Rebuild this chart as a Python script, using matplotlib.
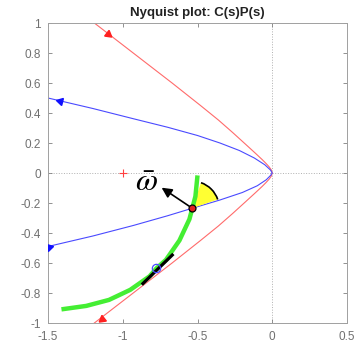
import matplotlib
matplotlib.use("Agg")
import matplotlib.pyplot as plt
from matplotlib.patches import Wedge, Arc

plt.rcParams['font.family'] = ['Liberation Sans', 'DejaVu Sans']
plt.rcParams['mathtext.fontset'] = 'stix'

# ---- data ----
red_x = [-1.19, -0.93, -0.67, -0.48, -0.36, -0.265, -0.18, -0.112, -0.068, -0.042, -0.02, -0.006, 0.0,
         -0.006, -0.02, -0.042, -0.068, -0.112, -0.18, -0.265, -0.36, -0.48, -0.67, -0.93, -1.19]
red_y = [1.0, 0.8, 0.6, 0.45, 0.353, 0.27, 0.193, 0.131, 0.09, 0.064, 0.04, 0.02, 0.0,
         -0.02, -0.04, -0.064, -0.09, -0.131, -0.193, -0.27, -0.353, -0.45, -0.6, -0.8, -1.0]

blue_x = [-1.5, -1.2, -0.93, -0.7, -0.5, -0.35, -0.22, -0.12, -0.05, -0.012, 0.0,
          -0.01, -0.04, -0.1, -0.2, -0.35, -0.535, -0.7, -0.93, -1.2, -1.5]
blue_y = [0.5, 0.43, 0.362, 0.305, 0.25, 0.2, 0.15, 0.1, 0.055, 0.02, 0.0,
          -0.015, -0.045, -0.085, -0.13, -0.18, -0.235, -0.285, -0.35, -0.42, -0.49]

green_x = [-0.5, -0.514, -0.554, -0.621, -0.711, -0.775, -0.821, -0.95, -1.092, -1.244, -1.41]
green_y = [-0.016, -0.156, -0.308, -0.45, -0.579, -0.636, -0.689, -0.779, -0.846, -0.886, -0.909]

tangent_x = [-0.865, -0.669]
tangent_y = [-0.737, -0.547]

red_arrow_x = [-1.1, -1.14]
red_arrow_y = [0.93, -0.97]
red_arrow_rot = [-128, 128]
blue_arrow_x = [-1.42, -1.49]
blue_arrow_y = [0.48, -0.49]
blue_arrow_rot = [76, -76]

crit_x, crit_y = -1.0, 0.0
dot_x, dot_y = -0.535, -0.235
circ_x, circ_y = -0.775, -0.636
arrow_tip = (-0.74, -0.098)
omega_pos = (-0.84, -0.065)
wedge_r = 0.18
wedge_theta = (19, 71)

xticks = [-1.5, -1, -0.5, 0, 0.5]
yticks = [-1, -0.8, -0.6, -0.4, -0.2, 0, 0.2, 0.4, 0.6, 0.8, 1]

red_c = '#ff6b6b'
blue_c = '#4a4aff'
green_c = '#44ee33'
grey = '#808080'

fig = plt.figure(figsize=(3.57, 3.49), dpi=100)
ax = fig.add_axes([48/357, 26/349, 299/357, 300/349])

ax.axhline(0, color='#b0b0b0', ls=':', lw=0.7, zorder=0)
ax.axvline(0, color='#b0b0b0', ls=':', lw=0.7, zorder=0)

ax.plot(red_x, red_y, color=red_c, lw=0.8, zorder=2)
ax.plot(blue_x, blue_y, color=blue_c, lw=0.8, zorder=2)
for x, y, r in zip(red_arrow_x, red_arrow_y, red_arrow_rot):
    ax.plot(x, y, marker=(3, 0, r), color='#ff2020', ms=6, mec='#ff2020', zorder=3)
for x, y, r in zip(blue_arrow_x, blue_arrow_y, blue_arrow_rot):
    ax.plot(x, y, marker=(3, 0, r), color='#1010ff', ms=6, mec='#1010ff', zorder=3)

ax.plot(crit_x, crit_y, marker='+', color='#ff4040', ms=6, mew=0.8, zorder=3)

ax.plot(green_x, green_y, color=green_c, lw=3.2, solid_capstyle='butt', zorder=4)
ax.plot(tangent_x, tangent_y, color='black', lw=2.3, zorder=5)
ax.plot(circ_x, circ_y, marker='o', mfc='none', mec=blue_c, ms=6, mew=0.9, zorder=6)

ax.add_patch(Wedge((dot_x, dot_y), wedge_r, wedge_theta[0], wedge_theta[1],
                   facecolor='#ffff33', edgecolor='none', zorder=3))
ax.add_patch(Arc((dot_x, dot_y), 2*wedge_r, 2*wedge_r, theta1=wedge_theta[0],
                 theta2=wedge_theta[1], color='black', lw=1.2, zorder=4))

ax.annotate('', xy=arrow_tip, xytext=(dot_x, dot_y),
            arrowprops=dict(arrowstyle='-|>', color='black', lw=1.2,
                            mutation_scale=15, shrinkA=0, shrinkB=0), zorder=6)
ax.plot(dot_x, dot_y, marker='o', mfc='#e02020', mec='black', ms=5, mew=0.9, zorder=7)

ax.text(omega_pos[0], omega_pos[1], r'$\bar{\omega}$', fontsize=23,
        ha='center', va='center', zorder=7)

ax.set_xlim(-1.5, 0.5)
ax.set_ylim(-1, 1)
ax.set_xticks(xticks)
ax.set_xticklabels(['-1.5', '-1', '-0.5', '0', '0.5'])
ax.set_yticks(yticks)
ax.set_yticklabels(['-1', '-0.8', '-0.6', '-0.4', '-0.2', '0', '0.2', '0.4', '0.6', '0.8', '1'])
ax.tick_params(direction='in', top=True, right=True, length=3, width=0.6,
               colors=grey, labelsize=8.5, labelcolor='#707070')
ax.tick_params(axis='x', pad=6)
ax.tick_params(axis='y', pad=5)
for s in ax.spines.values():
    s.set_color('#a0a0a0')
    s.set_linewidth(0.7)

ax.set_title('Nyquist plot: C(s)P(s)', fontsize=9.5, fontweight='bold', pad=5, color='#222222')

fig.savefig('out.png', dpi=100)
